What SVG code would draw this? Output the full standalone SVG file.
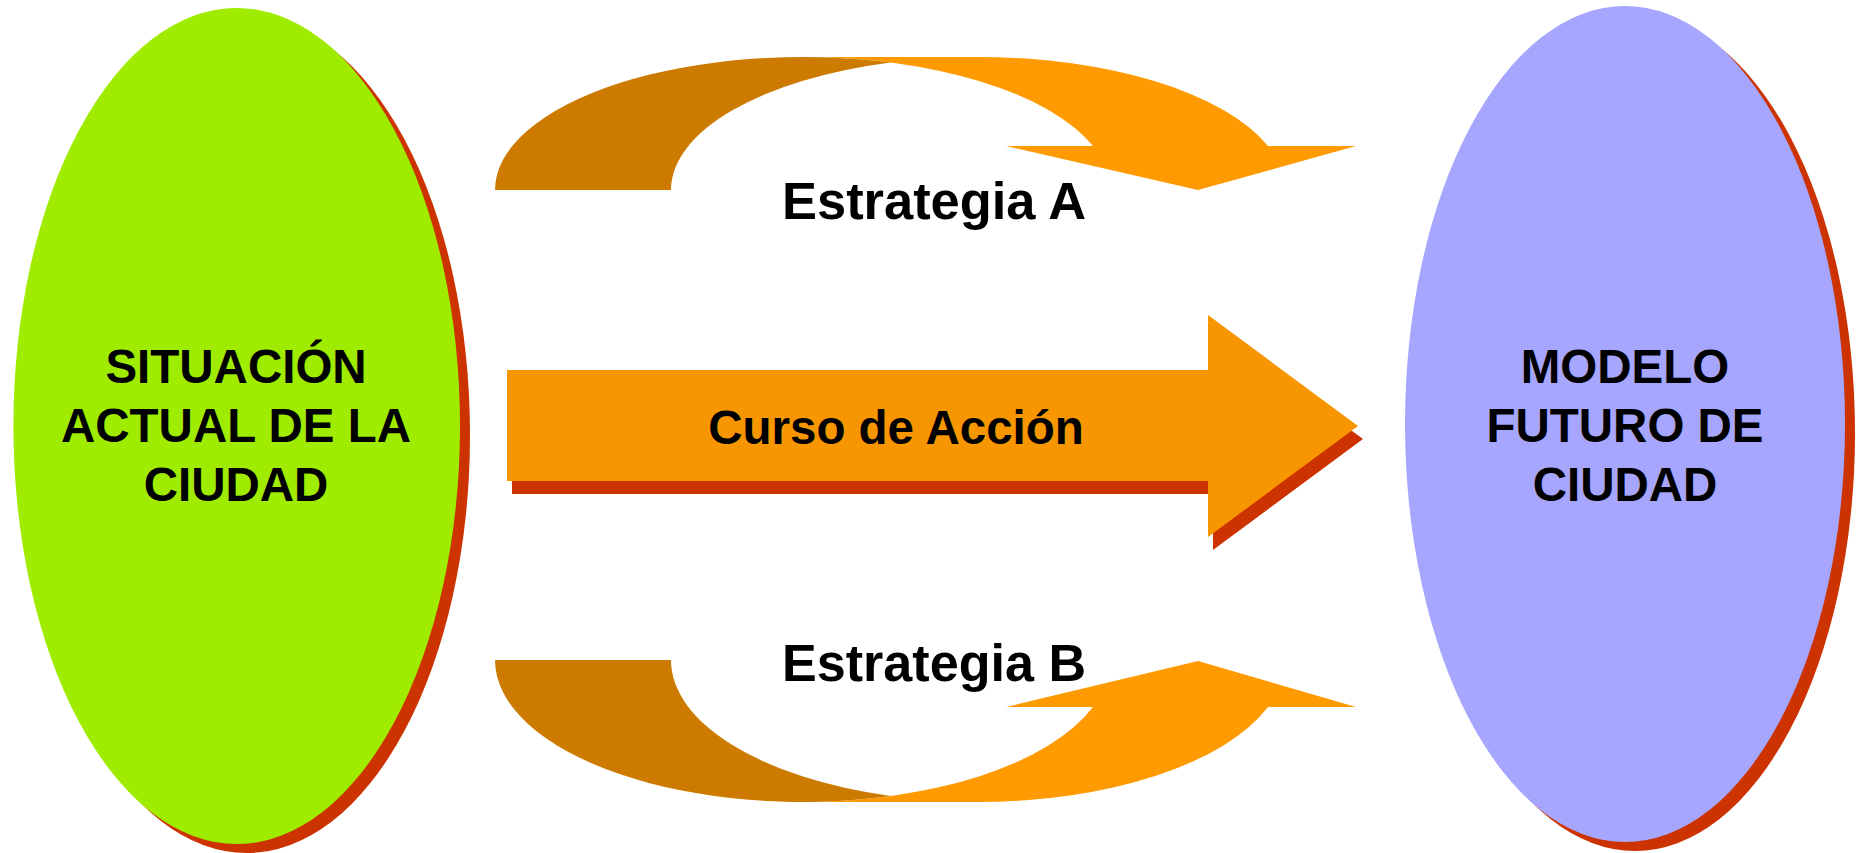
<svg xmlns="http://www.w3.org/2000/svg" width="1863" height="853" viewBox="0 0 1863 853">
<style>
.lbl{font-family:"Liberation Sans",Arial,sans-serif;font-weight:bold;fill:#000;text-anchor:middle}
.big{font-size:47.5px}
.strat{font-size:51px}
.shadow{fill:#CC3300}
.dark{fill:#CD7B00}
.light{fill:#FF9B00}
</style>
<rect width="1863" height="853" fill="#fff"/>
<g id="connectors">
  <g id="estrategia-a">
    <path class="light" d="M1198 190 L1006 146 L1093 146 A307.5 133 0 0 0 802.5 57 L978.5 57 A307.5 133 0 0 1 1268 146 L1356 146 Z"/>
    <path class="dark" d="M890.5 62.6 A307.5 133 0 0 0 671 190 L495 190 A307.5 133 0 0 1 890.5 62.6 Z"/>
    <text class="lbl strat" x="934" y="219" textLength="304" lengthAdjust="spacingAndGlyphs">Estrategia A</text>
  </g>
  <g id="curso-de-accion">
    <path class="shadow" d="M512 383 L1213 383 L1213 328 L1363 439 L1213 550 L1213 494 L512 494 Z"/>
    <path fill="#F79600" d="M507 370 L1208 370 L1208 315 L1358 426 L1208 537 L1208 481 L507 481 Z"/>
    <text class="lbl big" x="896" y="444">Curso de Acción</text>
  </g>
  <g id="estrategia-b">
    <path class="light" d="M1198 661 L1006 707 L1093 707 A307.5 142 0 0 1 802.5 802 L978.5 802 A307.5 142 0 0 0 1268 707 L1356 707 Z"/>
    <path class="dark" d="M890.5 796 A307.5 142 0 0 1 671 660 L495 660 A307.5 142 0 0 0 890.5 796 Z"/>
    <text class="lbl strat" x="934" y="681" textLength="304" lengthAdjust="spacingAndGlyphs">Estrategia B</text>
  </g>
</g>
<g id="situacion-actual">
  <ellipse class="shadow" cx="246.7" cy="435" rx="223.3" ry="418"/>
  <ellipse fill="#9FEC00" cx="236.7" cy="426" rx="223.3" ry="418"/>
  <text class="lbl big" x="236" y="383">SITUACIÓN</text>
  <text class="lbl big" x="236" y="442">ACTUAL DE LA</text>
  <text class="lbl big" x="236" y="501">CIUDAD</text>
</g>
<g id="modelo-futuro">
  <ellipse class="shadow" cx="1635" cy="433" rx="220" ry="418"/>
  <ellipse fill="#A6A6FF" cx="1625" cy="424" rx="220" ry="418"/>
  <text class="lbl big" x="1625" y="383">MODELO</text>
  <text class="lbl big" x="1625" y="442">FUTURO DE</text>
  <text class="lbl big" x="1625" y="501">CIUDAD</text>
</g>
</svg>
